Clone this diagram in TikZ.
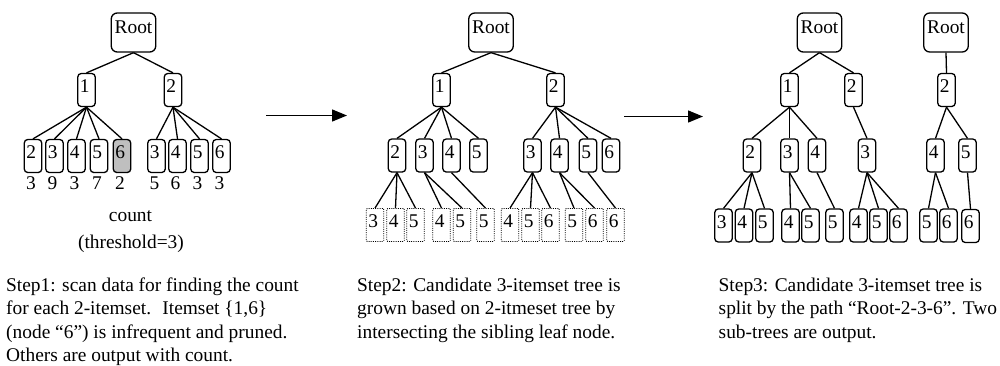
\documentclass[tikz,border=0pt]{standalone}
\usepackage{fontspec}
\setmainfont{Liberation Serif}
\usetikzlibrary{arrows.meta}
\newcommand\myfs{\fontsize{19.4pt}{23.5pt}\selectfont}
\begin{document}
\begin{tikzpicture}[x=1pt,y=-1pt,
  box/.style={draw, line width=1.3pt, rounded corners=3.5pt, inner xsep=2pt, inner ysep=0pt,
    text width=13.5pt, align=left, text height=19pt, text depth=14pt, font=\myfs},
  graybox/.style={box, fill=black!25},
  dotbox/.style={box, line width=0.9pt, dash pattern=on 1pt off 1.2pt, rounded corners=1pt},
  rootbox/.style={draw, line width=1.3pt, rounded corners=6pt, inner sep=0pt, minimum width=44.5pt,
    text height=20.3pt, text depth=18.7pt, align=center, font=\myfs},
  edge/.style={line width=1.3pt},
  arrow/.style={line width=1.4pt, -{Triangle[length=15pt,width=12pt]}},
  txt/.style={inner sep=0pt, font=\myfs, align=left, anchor=base west},
  cnt/.style={inner sep=0pt, font=\myfs, anchor=base}]
\useasboundingbox (0,0) rectangle (1000,365);

% ---------------- Tree 1 ----------------
\node[rootbox] (R1) at (133.5,32.5) {Root};
\node[box] (A1) at (86.5,90) {1};
\node[box] (A2) at (173,90) {2};
\node[box] (L12) at (33,156) {2};
\node[box] (L13) at (54.5,156) {3};
\node[box] (L14) at (76.5,156) {4};
\node[box] (L15) at (99,156) {5};
\node[graybox] (L16) at (122,156) {6};
\node[box] (L23) at (156.5,156) {3};
\node[box] (L24) at (177.5,156) {4};
\node[box] (L25) at (199.5,156) {5};
\node[box] (L26) at (221.5,156) {6};
\draw[edge] (R1.south) -- (A1.north);
\draw[edge] (R1.south) -- (A2.north);
\foreach \n in {L12,L13,L14,L15,L16} \draw[edge] (A1.south) -- (\n.north);
\foreach \n in {L23,L24,L25,L26} \draw[edge] (A2.south) -- (\n.north);
\node[cnt] (c12) at (31,189) {3};
\node[cnt] (c13) at (52.5,189) {9};
\node[cnt] (c14) at (74.5,189) {3};
\node[cnt] (c15) at (97,189) {7};
\node[cnt] (c16) at (120,189) {2};
\node[cnt] (c23) at (154.5,189) {5};
\node[cnt] (c24) at (175.5,189) {6};
\node[cnt] (c25) at (197.5,189) {3};
\node[cnt] (c26) at (219.5,189) {3};
\node[cnt] (count) at (130.5,221.5) {count};
\node[cnt] (thr) at (131,248) {(threshold=3)};

% ---------------- Arrows ----------------
\coordinate (a1s) at (266,115.5);
\coordinate (a1e) at (347,115.5);
\draw[arrow] (a1s) -- (a1e);
\coordinate (a2s) at (624,116.5);
\coordinate (a2e) at (703,116.5);
\draw[arrow] (a2s) -- (a2e);

% ---------------- Tree 2 ----------------
\node[rootbox] (R2) at (491,32.5) {Root};
\node[box] (B1) at (441.5,90) {1};
\node[box] (B2) at (555.5,90) {2};
\node[box] (M12) at (397,155.5) {2};
\node[box] (M13) at (424.5,155.5) {3};
\node[box] (M14) at (451.5,155.5) {4};
\node[box] (M15) at (478.5,155.5) {5};
\node[box] (M23) at (532.5,155.5) {3};
\node[box] (M24) at (559.5,155.5) {4};
\node[box] (M25) at (588,155.5) {5};
\node[box] (M26) at (611,155.5) {6};
\draw[edge] (R2.south) -- (B1.north);
\draw[edge] (R2.south) -- (B2.north);
\foreach \n in {M12,M13,M14,M15} \draw[edge] (B1.south) -- (\n.north);
\foreach \n in {M23,M24,M25,M26} \draw[edge] (B2.south) -- (\n.north);
\node[dotbox] (N123) at (375,225) {3};
\node[dotbox] (N124) at (395.5,225) {4};
\node[dotbox] (N125) at (415.5,225) {5};
\node[dotbox] (N134) at (441.5,225) {4};
\node[dotbox] (N135) at (462,225) {5};
\node[dotbox] (N145) at (485.5,225) {5};
\node[dotbox] (N234) at (510,225) {4};
\node[dotbox] (N235) at (530.5,225) {5};
\node[dotbox] (N236) at (550.5,225) {6};
\node[dotbox] (N245) at (574,225) {5};
\node[dotbox] (N246) at (594.5,225) {6};
\node[dotbox] (N256) at (615.5,225) {6};
\foreach \n in {N123,N124,N125} \draw[edge] (M12.south) -- (\n.north);
\foreach \n in {N134,N135} \draw[edge] (M13.south) -- (\n.north);
\draw[edge] (M14.south) -- (N145.north);
\foreach \n in {N234,N235,N236} \draw[edge] (M23.south) -- (\n.north);
\foreach \n in {N245,N246} \draw[edge] (M24.south) -- (\n.north);
\draw[edge] (M25.south) -- (N256.north);

% ---------------- Tree 3 ----------------
\node[rootbox] (R3) at (819.5,32.5) {Root};
\node[rootbox] (R4) at (946,32.5) {Root};
\node[box] (C1) at (789.5,90) {1};
\node[box] (C2) at (853.5,90) {2};
\node[box] (D2) at (946.5,90) {2};
\node[box] (P12) at (752,155.5) {2};
\node[box] (P13) at (789.5,155.5) {3};
\node[box] (P14) at (817,155.5) {4};
\node[box] (P23) at (867,155.5) {3};
\node[box] (Q24) at (935.5,155.5) {4};
\node[box] (Q25) at (967.5,155.5) {5};
\draw[edge] (R3.south) -- (C1.north);
\draw[edge] (R3.south) -- (C2.north);
\draw[edge] (R4.south) -- (D2.north);
\foreach \n in {P12,P13,P14} \draw[edge] (C1.south) -- (\n.north);
\draw[edge] (C2.south) -- (P23.north);
\foreach \n in {Q24,Q25} \draw[edge] (D2.south) -- (\n.north);
\node[box] (S123) at (723.5,225.5) {3};
\node[box] (S124) at (744,225.5) {4};
\node[box] (S125) at (764.5,225.5) {5};
\node[box] (S134) at (790.5,225.5) {4};
\node[box] (S135) at (810.5,225.5) {5};
\node[box] (S145) at (834.5,225.5) {5};
\node[box] (S234) at (858.5,225.5) {4};
\node[box] (S235) at (878.5,225.5) {5};
\node[box] (S236) at (898.5,225.5) {6};
\node[box] (T245) at (928.5,225.5) {5};
\node[box] (T246) at (948.5,225.5) {6};
\node[box] (T256) at (970.5,226) {6};
\foreach \n in {S123,S124,S125} \draw[edge] (P12.south) -- (\n.north);
\foreach \n in {S134,S135} \draw[edge] (P13.south) -- (\n.north);
\draw[edge] (P14.south) -- (S145.north);
\foreach \n in {S234,S235,S236} \draw[edge] (P23.south) -- (\n.north);
\foreach \n in {T245,T246} \draw[edge] (Q24.south) -- (\n.north);
\draw[edge] (Q25.south) -- (T256.north);

% ---------------- Captions (anchored at the baseline of the last line) ----------------
\node[txt] (step1) at (6,361.5) {Step1: scan data for finding the count\\for each 2-itemset. \ Itemset \{1,6\}\\(node “6”) is infrequent and pruned.\\Others are output with count.};
\node[txt] (step2) at (357,338) {Step2: Candidate 3-itemset tree is\\grown based on 2-itmeset tree by\\intersecting the sibling leaf node.};
\node[txt] (step3) at (718.5,338) {Step3: Candidate 3-itemset tree is\\split by the path “Root-2-3-6”. Two\\sub-trees are output.};
\end{tikzpicture}
\end{document}
